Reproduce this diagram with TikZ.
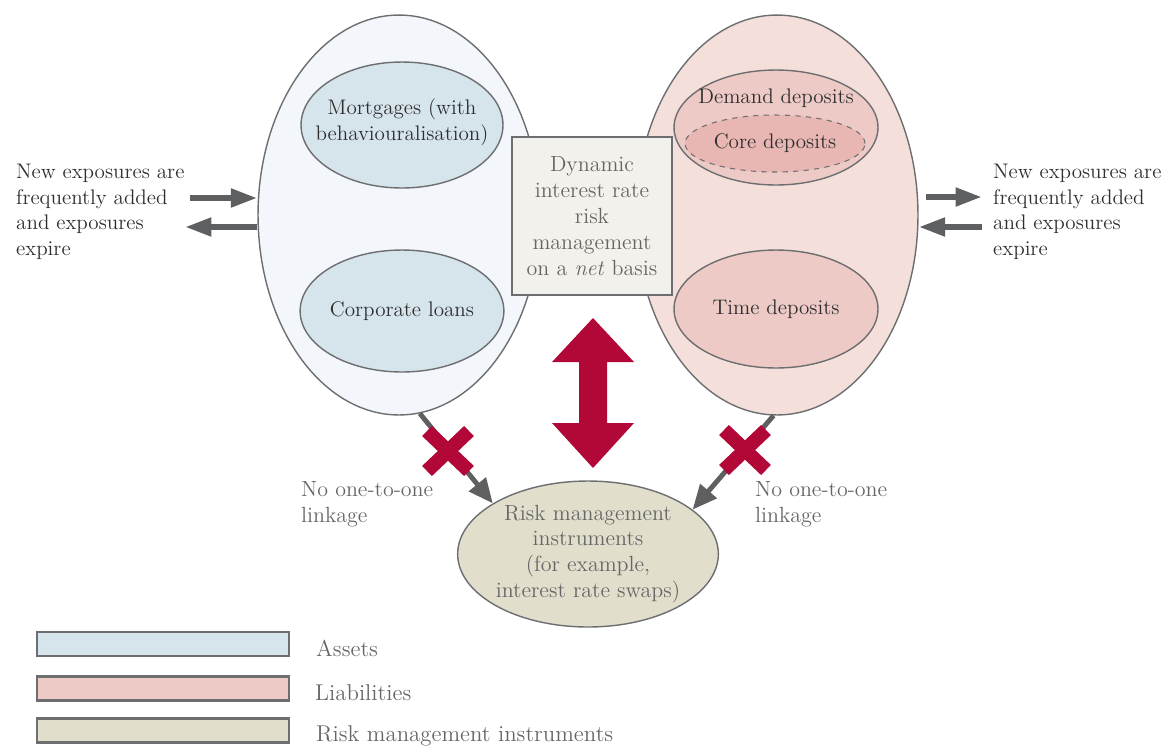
\documentclass[tikz,border=0pt]{standalone}
\usepackage{tikz}
\usetikzlibrary{shapes.geometric,arrows.meta}
\definecolor{edgegray}{HTML}{6D6E70}
\definecolor{arrowgray}{HTML}{5E5F61}
\definecolor{darktxt}{HTML}{2E2E2E}
\definecolor{lighttxt}{HTML}{666666}
\definecolor{assetbg}{HTML}{F3F6FA}
\definecolor{assetfill}{HTML}{D6E4EC}
\definecolor{liabbg}{HTML}{F4DFDB}
\definecolor{liabfill}{HTML}{EDCAC5}
\definecolor{corefill}{HTML}{E8B7B3}
\definecolor{boxfill}{HTML}{F3F1EB}
\definecolor{riskfill}{HTML}{E1DECC}
\definecolor{crimson}{HTML}{B20838}

\begin{document}
\begin{tikzpicture}[x=0.02cm,y=-0.02cm,
  every node/.style={font=\fontsize{12}{14.5}\selectfont,text=darktxt},
  bigell/.style={ellipse,draw=edgegray,line width=0.8pt,inner sep=0pt,minimum width=5.64cm,minimum height=8cm},
  smallell/.style={ellipse,draw=edgegray,line width=0.8pt,inner sep=0pt,minimum width=4.04cm,align=center},
  greytext/.style={text=lighttxt,align=center,font=\fontsize{12.5}{14.7}\selectfont},
  keytext/.style={text=lighttxt,anchor=west,font=\fontsize{13}{15}\selectfont},
  grayarrow/.style={draw=arrowgray,line width=3.4pt,-{Triangle[length=15pt,width=10pt]}},
  linkarrow/.style={draw=arrowgray,line width=2.8pt,-{Triangle[length=14pt,width=12pt]}},
  redx/.style={draw=crimson,line width=8pt},
  legendbox/.style={rectangle,draw=edgegray,line width=1.5pt,minimum width=5.04cm,minimum height=0.48cm,inner sep=0pt}]
\useasboundingbox (0,0) rectangle (1166,745);

\node[bigell,fill=assetbg] (assets) at (399,215) {};
\node[bigell,fill=liabbg] (liabs) at (777,215) {};

\node[smallell,fill=assetfill,minimum height=2.52cm] (mortg) at (402,125) {};
\node[align=center] (mortglbl) at (402,122) {Mortgages (with\\behaviouralisation)};
\node[smallell,fill=assetfill,minimum height=2.44cm] (corp) at (402,311) {Corporate loans};
\node[smallell,fill=liabfill,minimum width=4.08cm,minimum height=2.3cm] (demand) at (776,127.5) {};
\node (demandlbl) at (776,98) {Demand deposits};
\node[ellipse,draw=edgegray,dashed,line width=0.6pt,fill=corefill,inner sep=0pt,minimum width=3.6cm,minimum height=1.14cm] (core) at (775,143.5) {Core deposits};
\node[smallell,fill=liabfill,minimum width=4.08cm,minimum height=2.36cm] (time) at (776,309) {Time deposits};

\node[rectangle,draw=edgegray,line width=1pt,fill=boxfill,minimum width=3.2cm,minimum height=3.16cm,greytext] (dyn) at (592,216) {Dynamic\\interest rate\\risk\\management\\on a \textit{net} basis};

\fill[crimson] (593,393) ++(0,-75) -- ++(41,44) -- ++(-27,0) -- ++(0,61) -- ++(27,0) -- ++(-41,45)
  -- ++(-41,-45) -- ++(27,0) -- ++(0,-61) -- ++(-27,0) -- cycle;

\node[ellipse,draw=edgegray,line width=0.8pt,fill=riskfill,inner sep=0pt,minimum width=5.16cm,minimum height=2.92cm,greytext] (risk) at (588,554) {Risk management\\instruments\\(for example,\\interest rate swaps)};

\draw[linkarrow] (assets.-84) -- (risk.152);
\draw[linkarrow] (liabs.-91) -- (risk.23);
\coordinate (crossL) at (448,451);
\coordinate (crossR) at (745,450);
\foreach \c in {crossL,crossR}{
  \draw[redx] ([shift={(-21,-20)}]\c) -- ([shift={(21,20)}]\c);
  \draw[redx] ([shift={(21,-20)}]\c) -- ([shift={(-21,20)}]\c);
}
\node[greytext,align=left,anchor=west] (linkL) at (295,504) {No one-to-one\\linkage};
\node[greytext,align=left,anchor=west] (linkR) at (749,504) {No one-to-one\\linkage};

\node[align=left,anchor=west] (newL) at (10,212) {New exposures are\\frequently added\\and exposures\\expire};
\node[align=left,anchor=west] (newR) at (987,212) {New exposures are\\frequently added\\and exposures\\expire};
\coordinate (addL) at (190,198);
\coordinate (expL) at (185,227);
\coordinate (addR) at (982,197);
\coordinate (expR) at (982,227);
\draw[grayarrow] (addL) -- (addL -| assets.west);
\draw[grayarrow] (expL -| assets.west) -- (expL);
\draw[grayarrow] ([xshift=4]addR -| liabs.east) -- (addR);
\draw[grayarrow] (expR) -- (expR -| liabs.east);

\node[legendbox,fill=assetfill] (keyA) at (163,644) {};
\node[legendbox,fill=liabfill] (keyL) at (163,688.5) {};
\node[legendbox,fill=riskfill] (keyR) at (163,730.5) {};
\node[keytext] (keyAlbl) at (310,648) {Assets};
\node[keytext] (keyLlbl) at (309,693) {Liabilities};
\node[keytext] (keyRlbl) at (310,736) {Risk management instruments};
\end{tikzpicture}
\end{document}
